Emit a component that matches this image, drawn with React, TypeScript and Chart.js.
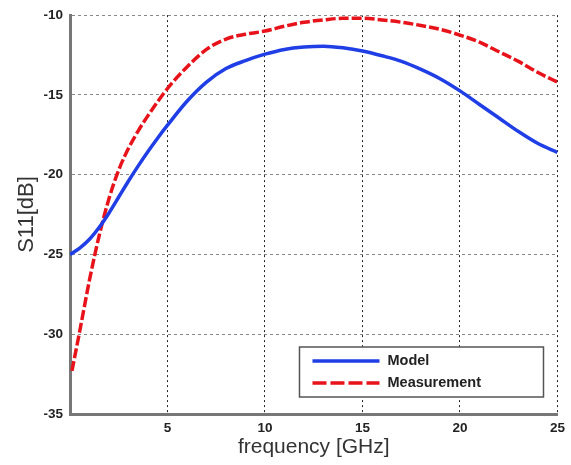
import React, { useEffect, useRef } from 'react';
import { Chart, registerables } from 'chart.js';

Chart.register(...registerables);

const modelLabel = 'Model';
const measLabel = 'Measurement';

const modelFreq = [0, 0.5, 1, 1.5, 2, 2.5, 3, 3.5, 4, 4.5, 5, 6, 7, 8, 9, 10, 11, 12, 13, 14, 15, 16, 17, 18, 19, 20, 21, 22, 23, 24, 25];
const modelS11 = [-25.0, -24.6, -24.05, -23.3, -22.4, -21.4, -20.4, -19.45, -18.55, -17.7, -16.9, -15.4, -14.2, -13.35, -12.85, -12.45, -12.15, -12.0, -11.95, -12.05, -12.25, -12.55, -12.9, -13.4, -14.0, -14.75, -15.6, -16.45, -17.3, -18.05, -18.6];

const measFreq = [0.1, 0.5, 1, 1.5, 2, 2.5, 3, 3.5, 4, 5, 6, 7, 8, 9, 10, 11, 12, 13, 14, 15, 16, 17, 18, 19, 20, 21, 22, 23, 24, 25];
const measS11 = [-32.3, -29.8, -26.6, -23.8, -21.5, -19.7, -18.35, -17.25, -16.3, -14.6, -13.25, -12.15, -11.5, -11.2, -11.0, -10.7, -10.45, -10.3, -10.2, -10.2, -10.3, -10.45, -10.65, -10.9, -11.25, -11.7, -12.3, -12.9, -13.6, -14.2];

const xTicks = [0, 5, 10, 15, 20, 25];
const yTicks = [-35, -30, -25, -20, -15, -10];

const BLUE = '#1f3ee6';
const RED = '#e8121b';
const TEXT_FONT = '"Liberation Sans", Arial, sans-serif';

const legendPlugin = {
  id: 'boxLegend',
  afterDraw(chart: any) {
    const { ctx, chartArea } = chart;
    const right = chartArea.right - 14;
    const bottom = chartArea.bottom - 17;
    const w = 244;
    const h = 50;
    const left = right - w;
    const top = bottom - h;
    ctx.save();
    ctx.fillStyle = '#ffffff';
    ctx.fillRect(left, top, w, h);
    ctx.strokeStyle = '#555';
    ctx.lineWidth = 1.5;
    ctx.strokeRect(left, top, w, h);
    const ds = chart.data.datasets;
    const rows = [top + 14, top + 36];
    ds.forEach((d: any, i: number) => {
      ctx.beginPath();
      ctx.strokeStyle = d.borderColor;
      ctx.lineWidth = 3.5;
      ctx.setLineDash(i === 1 ? [14, 4] : []);
      ctx.moveTo(left + 13, rows[i]);
      ctx.lineTo(left + 80, rows[i]);
      ctx.stroke();
      ctx.setLineDash([]);
      ctx.fillStyle = '#222';
      ctx.font = 'bold 14.5px ' + TEXT_FONT;
      ctx.textBaseline = 'middle';
      ctx.textAlign = 'left';
      ctx.fillText(d.label, left + 88, rows[i]);
    });
    ctx.restore();
  },
};

export default function App() {
  const ref = useRef<HTMLCanvasElement | null>(null);

  useEffect(() => {
    if (!ref.current) return;
    const chart = new Chart(ref.current, {
      type: 'line',
      data: {
        datasets: [
          {
            label: modelLabel,
            data: modelFreq.map((f, i) => ({ x: f, y: modelS11[i] })),
            borderColor: BLUE,
            backgroundColor: BLUE,
            borderWidth: 3.5,
            pointRadius: 0,
            cubicInterpolationMode: 'monotone',
          },
          {
            label: measLabel,
            data: measFreq.map((f, i) => ({ x: f, y: measS11[i] })),
            borderColor: RED,
            backgroundColor: RED,
            borderWidth: 3.5,
            borderDash: [10, 3],
            pointRadius: 0,
            cubicInterpolationMode: 'monotone',
          },
        ],
      },
      options: {
        responsive: false,
        animation: false,
        layout: { padding: { left: 0, top: 10, right: 10, bottom: 0 } },
        plugins: {
          legend: { display: false },
          tooltip: { enabled: false },
        },
        scales: {
          x: {
            type: 'linear',
            min: 0,
            max: 25,
            afterBuildTicks: (s: any) => {
              s.ticks = xTicks.map((v) => ({ value: v }));
            },
            afterFit: (s: any) => {
              s.height = 51;
            },
            ticks: {
              padding: 6,
              color: '#222',
              font: { family: TEXT_FONT, size: 13.5, weight: 'bold' },
              callback: (v: any) => (v === 0 ? '' : String(v)),
              maxRotation: 0,
            },
            grid: {
              color: '#222',
              lineWidth: 1,
              drawTicks: false,
            },
            border: { display: true, color: '#777', width: 3, dash: [2, 3] },
            title: {
              display: true,
              text: 'frequency [GHz]',
              color: '#333',
              font: { family: TEXT_FONT, size: 21 },
              padding: { top: 0, bottom: 5 },
            },
          },
          y: {
            type: 'linear',
            min: -35,
            max: -10,
            afterBuildTicks: (s: any) => {
              s.ticks = yTicks.map((v) => ({ value: v }));
            },
            afterFit: (s: any) => {
              s.width = 70;
            },
            ticks: {
              padding: 7,
              color: '#222',
              font: { family: TEXT_FONT, size: 13.5, weight: 'bold' },
            },
            grid: {
              color: '#888',
              lineWidth: 1,
              drawTicks: false,
            },
            border: { display: true, color: '#777', width: 3, dash: [3, 3] },
            title: {
              display: true,
              text: 'S11[dB]',
              color: '#333',
              font: { family: TEXT_FONT, size: 22 },
              padding: { top: 14, bottom: 0 },
            },
          },
        },
      } as any,
      plugins: [legendPlugin],
    });
    return () => chart.destroy();
  }, []);

  return (
    <div style={{ position: 'absolute', left: 0, top: 0, width: 571, height: 465, background: '#fff' }}>
      <canvas ref={ref} width={571} height={465} style={{ display: 'block' }} />
    </div>
  );
}
